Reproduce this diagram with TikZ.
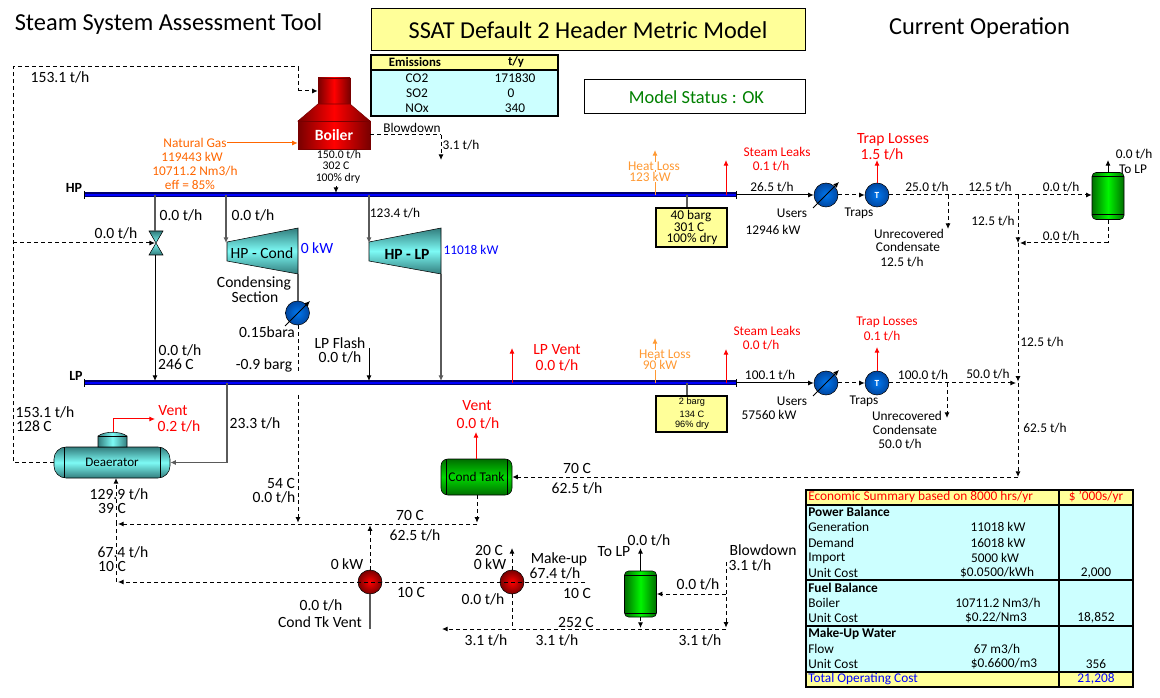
\documentclass[tikz,border=0pt]{standalone}
\usepackage{fontspec}
\setmainfont{Carlito}
\newfontfamily\arialfont{Liberation Sans}
\usetikzlibrary{arrows.meta}
\definecolor{paleyellow}{RGB}{255,255,153}
\definecolor{palecyan}{RGB}{204,255,255}
\definecolor{lossorange}{RGB}{255,102,0}
\definecolor{heatorange}{RGB}{255,153,51}
\definecolor{okgreen}{RGB}{0,128,0}
\definecolor{pipegray}{RGB}{90,90,90}
\definecolor{tealdark}{RGB}{50,125,125}
\definecolor{teallight}{RGB}{125,250,245}
\definecolor{greendark}{RGB}{0,110,0}
\definecolor{greenlight}{RGB}{0,245,0}
\definecolor{reddark}{RGB}{120,0,0}
\definecolor{bluedark}{RGB}{0,70,160}
\definecolor{bluelight}{RGB}{0,120,240}
\definecolor{headernavy}{RGB}{0,0,110}
\tikzset{
  >={Latex[length=4.2pt,width=3.8pt]},
  lbl/.style={inner sep=0pt,font=\fontsize{10}{12}\selectfont},
  lblbig/.style={inner sep=0pt,font=\fontsize{11.7}{14}\selectfont},
  lblsmall/.style={inner sep=0pt,font=\fontsize{8.8}{10}\selectfont},
  lbltitle/.style={inner sep=0pt,font=\fontsize{18.3}{22}\selectfont},
  steamline/.style={line width=0.75pt,draw=black},
  condline/.style={steamline,dash pattern=on 3pt off 2.25pt},
  graypipe/.style={line width=0.9pt,draw=pipegray},
  redline/.style={line width=0.75pt,draw=red},
  heatline/.style={line width=0.75pt,draw=heatorange},
  gasline/.style={line width=0.75pt,draw=lossorange},
  headerouter/.style={line width=3.75pt,draw=headernavy},
  headerinner/.style={line width=1.1pt,draw=blue},
  statebox/.style={draw,line width=1.5pt,fill=paleyellow,inner sep=0pt},
  userball/.style={circle,draw,inner sep=0pt,minimum size=18pt,shading=radial,inner color=bluelight,outer color=bluedark},
  pumpball/.style={circle,draw,inner sep=0pt,minimum size=18pt,shading=radial,inner color=red,outer color=reddark},
  redbox/.style={draw=reddark,inner sep=0pt,left color=reddark,right color=reddark,middle color=red},
  turbine/.style={draw,top color=tealdark,bottom color=tealdark,middle color=teallight}
}
\begin{document}
\begin{tikzpicture}[x=0.75pt,y=-0.75pt]
\useasboundingbox (0,0) rectangle (1160,698);

% Titles
\node[lbltitle] (tooltitle) at (168.5,24.5) {Steam System Assessment Tool};
\node[draw,line width=0.75pt,fill=paleyellow,minimum width=325.5pt,minimum height=31.5pt,inner sep=0pt,font=\fontsize{18.2}{22}\selectfont] (modeltitle) at (588,30) {SSAT Default 2 Header Metric Model};
\node[lbltitle] (optitle) at (979.5,28.5) {Current Operation};
\node[draw,line width=0.75pt,minimum width=165.75pt,minimum height=25.5pt,inner sep=0pt,text=okgreen,font=\fontsize{13.8}{16}\selectfont] (modelstatus) at (694.5,97) {\hspace{3pt}Model Status : OK};

% Emissions
\draw[fill=palecyan,line width=1.5pt] (371,55) rectangle (558,116);
\draw[fill=paleyellow,line width=1.5pt] (371,55) rectangle (558,70);
\node[lbl,font=\fontsize{9.6}{12}\selectfont\bfseries] (emisname) at (415,62.5) {Emissions};
\node[lbl,font=\fontsize{9.6}{12}\selectfont\bfseries] (emisunit) at (516,62.5) {t/y};
\node[lbl] (emisA) at (417,78) {CO2};
\node[lbl] (emisAval) at (515,78) {171830};
\node[lbl] (emisB) at (417,93) {SO2};
\node[lbl] (emisBval) at (511,93) {0};
\node[lbl] (emisC) at (417,108) {NOx};
\node[lbl] (emisCval) at (515,108) {340};

% Boiler
\node[redbox,minimum width=24pt,minimum height=19.5pt] (stack) at (334,91) {};
\path[redbox] (318,104) -- (350,104) -- (370,121) -- (298,121) -- cycle;
\node[redbox,minimum width=54pt,minimum height=21pt,text=white,font=\fontsize{11.7}{14}\selectfont\bfseries] (boiler) at (334,135) {Boiler};

% Headers
\coordinate (hpL) at (84,195);
\coordinate (hpR) at (736,195);
\coordinate (lpL) at (84,383);
\coordinate (lpR) at (736,383);
\draw[headerouter] (hpL) -- (hpR);
\draw[headerinner] (hpL) -- (hpR);
\draw[headerouter] (lpL) -- (lpR);
\draw[headerinner] (lpL) -- (lpR);
\draw[steamline] ([yshift=-3pt]hpL) -- ([yshift=3pt]hpL);
\draw[steamline] ([yshift=-3pt]hpR) -- ([yshift=3pt]hpR);
\draw[steamline] ([yshift=-3pt]lpL) -- ([yshift=3pt]lpL);
\draw[steamline] ([yshift=-3pt]lpR) -- ([yshift=3pt]lpR);
\node[lblbig,font=\fontsize{10.5}{12}\selectfont\bfseries] (hpname) at (74,188) {HP};
\node[lblbig,font=\fontsize{10.5}{12}\selectfont\bfseries] (lpname) at (76,376) {LP};

% Let-down valve
\coordinate (valve) at (155,243);
\coordinate (leftbus) at (13,243);
\coordinate (rectop) at (298,67);
\path[turbine] (149,231) -- (163,231) -- (149,255) -- (163,255) -- cycle;
\draw[graypipe] (valve |- hpL) -- (155,231);
\draw[steamline,->] (155,255) -- ([yshift=1.5pt]valve |- lpL);

% Turbines
\coordinate (condin) at (226,195);
\coordinate (lpin) at (369,195);
\path[turbine] (227,242) -- (298,228) -- (298,274) -- (227,261) -- cycle;
\path[turbine] (369,242) -- (441,228) -- (441,274) -- (369,261) -- cycle;
\draw[graypipe,->] (condin) -- (226,243);
\draw[graypipe,->] (lpin) -- (369,243);
\draw[graypipe,->] (441,274) -- ([yshift=1.5pt]441,383);
\node[lblbig] (condname) at (262,253) {HP - Cond};
\node[lblbig,font=\fontsize{11.7}{14}\selectfont\bfseries] (lpname2) at (407,254) {HP - LP};
\node[lblbig,text=blue] (condpower) at (317,248) {0 kW};
\node[lbl,text=blue] (lppower) at (471,250) {11018 kW};

% Condensing section
\node[userball] (condenser) at (297.5,313) {};
\coordinate (condtop) at (298,274);
\draw[graypipe] (condtop) -- (condtop |- condenser.north);
\draw[steamline,->] (285,326) -- (310,301);
\coordinate (cdgapA) at (298,372);
\coordinate (cdgapB) at (298,395);
\coordinate (mixW) at (116,524);
\coordinate (mixE) at (477,524);
\draw[condline] (cdgapA |- condenser.south) -- (cdgapA);
\draw[condline,->] (cdgapB) -- ([yshift=1pt]cdgapB |- mixW);
\node[lblbig] (condlabA) at (254,283) {Condensing};
\node[lblbig] (condlabB) at (255,297) {Section};
\node[lblbig] (condlabC) at (267,332) {0.15bara};
\node[lblbig] (condlabD) at (264,365) {-0.9 barg};

% Deaerator
\node[draw,inner sep=0pt,rounded corners=9pt,minimum width=87pt,minimum height=23.25pt,top color=tealdark,bottom color=tealdark,middle color=teallight,font=\fontsize{9.8}{12}\selectfont] (dea) at (112,462.5) {Deaerator};
\draw[steamline] (64,447) -- (64,478);
\draw[steamline] (160,447) -- (160,478);
\path[draw,left color=tealdark,right color=tealdark,middle color=teallight] (98,447) -- (98,436) .. controls (105,431) and (120,431) .. (127,436) -- (127,447) -- cycle;
\draw[steamline] (98,436) -- (127,436);
\coordinate (deavent) at (113,419);
\node[lblbig,text=red] (deaventA) at (173,411) {Vent};
\node[lblbig,text=red] (deaventB) at (179,426) {0.2 t/h};
\draw[redline] (113,432) -- (deavent);
\draw[redline,->] (deavent) -- (155,419);
\draw[condline] (dea.west) -- (leftbus |- dea.west) -- (leftbus |- rectop) -- (rectop) -- (rectop |- stack.west);
\draw[condline,->] (rectop |- stack.west) -- (stack.west);
\draw[condline,->] (leftbus) -- (valve);
\coordinate (deain) at (227,383);
\draw[graypipe] (deain) -- (deain |- dea.east);
\draw[graypipe,->] (deain |- dea.east) -- (dea.east);

% Natural gas and blowdown
\coordinate (gasin) at (227,143);
\coordinate (boilout) at (336,186);
\draw[gasline,->] (gasin) -- (boiler.west |- gasin);
\draw[condline] (boiler.east) -- (441,135);
\draw[condline,->] (441,135) -- (441,160);
\draw[steamline,->] (boilout) -- ([yshift=1.5pt]boilout |- hpL);

% HP state and losses
\node[statebox,minimum width=53.25pt,minimum height=29.25pt] (hpstate) at (691.5,227.5) {};
\coordinate (hptap) at (687,195);
\draw[graypipe] (hptap) -- (hptap |- hpstate.north);
\draw[heatline,->] (655,195) -- (655,150);
\draw[redline,->] (726,195) -- (726,160);
\node[lbl] (hpstateA) at (691,216) {40 barg};
\node[lbl] (hpstateB) at (689,227) {301 C};
\node[lbl] (hpstateC) at (692,239) {100\% dry};

% LP state and losses
\node[statebox,minimum width=53.25pt,minimum height=27pt] (lpstate) at (691,414) {};
\coordinate (lptap) at (687,383);
\draw[graypipe] (lptap) -- (lptap |- lpstate.north);
\draw[heatline,->] (655,383) -- (655,338);
\draw[redline,->] (726,383) -- (726,349);
\draw[redline,->] (512,383) -- (512,348);
\node[lbl,font=\arialfont\fontsize{6.9}{9}\selectfont] (lpstateA) at (692,402) {2 barg};
\node[lbl,font=\arialfont\fontsize{6.9}{9}\selectfont] (lpstateB) at (692,414) {134 C};
\node[lbl,font=\arialfont\fontsize{6.9}{9}\selectfont] (lpstateC) at (692,425) {96\% dry};

% HP users
\node[userball] (hpusers) at (826,195) {};
\node[userball,font=\fontsize{7}{8}\selectfont\bfseries,text=white] (hptraps) at (877,195) {T};
\draw[steamline,->] (hpR) -- (hpusers.west);
\draw[steamline,->] (813,208) -- (839,182);
\draw[condline,->] (hpusers.east) -- (hptraps.west);
\draw[redline,->] (hptraps.north) -- (877,160);
\node[draw,inner sep=0pt,rounded corners=3pt,minimum width=24pt,minimum height=35.25pt,left color=greendark,right color=greendark,middle color=greenlight] (hptank) at (1108,196) {};
\draw[steamline] (1092,177) -- (1124,177);
\draw[steamline] (1092,215) -- (1124,215);
\coordinate (hpsplit) at (948,195);
\coordinate (hpbus) at (1018,195);
\coordinate (hpreturn) at (1018,243);
\draw[condline,->] (hptraps.east) -- (hptank.west |- hptraps.east);
\draw[condline,->] (hpsplit) -- (948,229);
\draw[condline,->] (hpbus) -- (hpreturn);
\draw[condline] (hptank.south) -- (hptank.south |- hpreturn);
\draw[condline,->] (hptank.south |- hpreturn) -- ([xshift=1.5pt]hpreturn);
\draw[steamline,->] (hptank.north) -- (1108,160);

% LP users
\node[userball] (lpusers) at (826,383) {};
\node[userball,font=\fontsize{7}{8}\selectfont\bfseries,text=white] (lptraps) at (877,383) {T};
\draw[steamline,->] (lpR) -- (lpusers.west);
\draw[steamline,->] (813,396) -- (839,370);
\draw[condline,->] (lpusers.east) -- (lptraps.west);
\draw[redline,->] (lptraps.north) -- (877,347);
\coordinate (lpsplit) at (947,383);
\coordinate (lpbus) at (1018,383);
\coordinate (tankreturn) at (1018,477);
\draw[condline,->] (lptraps.east) -- ([xshift=-1.5pt]lpbus);
\draw[condline,->] (lpsplit) -- (947,418);
\draw[condline,->] (hpreturn) -- ([yshift=1pt]lpbus);
\draw[condline,->] (lpbus) -- (tankreturn);

% Condensate tank
\node[draw,inner sep=0pt,rounded corners=5pt,minimum width=53.25pt,minimum height=27pt,top color=greendark,bottom color=greendark,middle color=green!85!black,font=\fontsize{10}{12}\selectfont] (condtank) at (476.5,477) {Cond Tank};
\draw[steamline] (446,459) -- (446,495);
\draw[steamline] (507,459) -- (507,495);
\draw[condline,->] (tankreturn) -- (condtank.east);
\draw[redline,->] (476,459) -- (476,432);
\draw[condline,->] (mixE |- condtank.south) -- ([yshift=1pt]mixE);
\draw[condline,->] (mixE) -- ([xshift=1.5pt]mixW);

% Feedwater pumps
\node[pumpball] (condpump) at (370,582) {};
\node[pumpball] (mupump) at (512,582) {};
\coordinate (mufeed) at (585,582);
\coordinate (feedW) at (116,582);
\coordinate (bdE) at (726,629);
\coordinate (bdW) at (442,629);
\draw[condline,->] (mufeed) -- ([xshift=1.5pt]feedW);
\draw[condline,->] (condpump.north) -- ([yshift=-1pt]condpump |- mixW);
\draw[graypipe] (condpump.south) -- (370,629);
\draw[condline,->] (mupump.north) -- (512,548);
\draw[condline] (mupump.south) -- (mupump |- bdW);
\draw[condline] (feedW) -- (mixW);
\draw[condline,->] (mixW) -- (116,478);

% Blowdown tank
\node[draw,inner sep=0pt,rounded corners=3pt,minimum width=24pt,minimum height=34.5pt,left color=greendark,right color=greendark,middle color=greenlight] (bdtank) at (640.5,594) {};
\draw[steamline] (625,575) -- (656,575);
\draw[steamline] (625,613) -- (656,613);
\draw[steamline,->] (bdtank.north) -- (640.5,548);
\coordinate (bdtop) at (726,562);
\draw[condline,->] (bdtop) -- ([yshift=1pt]bdE);
\draw[condline,->] (726,594) -- (bdtank.east);
\draw[condline,->] (bdtank.south) -- (640.5,628);
\draw[condline,->] (bdE) -- (bdW);

% Labels upper left
\node[lblbig] (rectopval) at (60,77) {153.1 t/h};
\node[lbl,text=lossorange] (gasA) at (195,143) {Natural Gas};
\node[lbl,text=lossorange] (gasB) at (192,157) {119443 kW};
\node[lbl,text=lossorange] (gasC) at (195,171) {10711.2 Nm3/h};
\node[lbl,text=lossorange] (gasD) at (190,185) {eff = 85\%};
\node[lblsmall] (boilA) at (339,155) {150.0 t/h};
\node[lblsmall] (boilB) at (336,166) {302 C};
\node[lblsmall] (boilC) at (338,178) {100\% dry};
\node[lbl] (blowA) at (412,128) {Blowdown};
\node[lbl] (blowB) at (461,145) {3.1 t/h};
\node[lblbig] (valA) at (181,215) {0.0 t/h};
\node[lblbig] (valB) at (253,215) {0.0 t/h};
\node[lbl] (valC) at (395,213) {123.4 t/h};
\node[lblbig] (valD) at (116,233) {0.0 t/h};
\node[lblbig] (valE) at (180,350) {0.0 t/h};
\node[lblbig] (valF) at (176,364) {246 C};
\node[lblbig] (flashA) at (340,343) {LP Flash};
\node[lblbig] (flashB) at (340,357) {0.0 t/h};
\coordinate (flashin) at (369,348);
\draw[steamline,->] (flashin) -- ([yshift=1.5pt]flashin |- lpL);
\node[lblbig] (recA) at (45,412) {153.1 t/h};
\node[lblbig] (recB) at (34,426) {128 C};
\node[lblbig] (deaval) at (255,423) {23.3 t/h};
\node[lblbig] (cdA) at (281,483) {54 C};
\node[lblbig] (cdB) at (274,497) {0.0 t/h};
\node[lblbig] (feedA) at (119,494) {129.9 t/h};
\node[lblbig] (feedB) at (112,508) {39 C};
\node[lblbig] (feedC) at (123,552) {67.4 t/h};
\node[lblbig] (feedD) at (112,566) {10 C};

% Labels header losses
\node[lbl,text=heatorange,fill=white] (hpheatA) at (654,166) {Heat Loss};
\node[lbl,text=heatorange,fill=white] (hpheatB) at (650,177) {123 kW};
\node[lbl,text=red] (hpleakA) at (777,152) {Steam Leaks};
\node[lbl,text=red] (hpleakB) at (771,166) {0.1 t/h};
\node[lbl,text=heatorange,fill=white] (lpheatA) at (665,354) {Heat Loss};
\node[lbl,text=heatorange,fill=white] (lpheatB) at (660,365) {90 kW};
\node[lbl,text=red] (lpleakA) at (767,331) {Steam Leaks};
\node[lbl,text=red] (lpleakB) at (761,345) {0.0 t/h};
\node[lblbig,text=red] (ventA) at (557,350) {LP Vent};
\node[lblbig,text=red] (ventB) at (557,365) {0.0 t/h};
\node[lblbig,text=red] (tankventA) at (477,406) {Vent};
\node[lblbig,text=red] (tankventB) at (478,423) {0.0 t/h};

% Labels HP users
\node[lbl] (hpflowA) at (772,187) {26.5 t/h};
\node[lbl] (hpflowB) at (792,213) {Users};
\node[lbl] (hpflowC) at (773,230) {12946 kW};
\node[lbl] (hpflowD) at (859,213) {Traps};
\node[lblbig,text=red] (hplossA) at (893,140) {Trap Losses};
\node[lblbig,text=red] (hplossB) at (882,154) {1.5 t/h};
\node[lbl] (hpflowE) at (927,187) {25.0 t/h};
\node[lbl] (hpflowF) at (990,187) {12.5 t/h};
\node[lbl] (hpflowG) at (1061,187) {0.0 t/h};
\node[lbl] (hpcondA) at (909,234) {Unrecovered};
\node[lbl] (hpcondB) at (908,247) {Condensate};
\node[lbl] (hpcondC) at (902,262) {12.5 t/h};
\node[lbl] (hpflowH) at (993,221) {12.5 t/h};
\node[lbl] (hpflowI) at (1061,236) {0.0 t/h};
\node[lbl] (hptankA) at (1134,154) {0.0 t/h};
\node[lbl] (hptankB) at (1133,169) {To LP};

% Labels LP users
\node[lbl] (lpflowA) at (770,375) {100.1 t/h};
\node[lbl] (lpflowB) at (792,401) {Users};
\node[lbl] (lpflowC) at (769,415) {57560 kW};
\node[lbl] (lpflowD) at (864,401) {Traps};
\node[lbl,text=red] (lplossA) at (887,322) {Trap Losses};
\node[lbl,text=red] (lplossB) at (882,336) {0.1 t/h};
\node[lbl] (lpflowE) at (923,375) {100.0 t/h};
\node[lbl] (lpflowF) at (988,374) {50.0 t/h};
\node[lbl] (lpcondA) at (907,416) {Unrecovered};
\node[lbl] (lpcondB) at (905,430) {Condensate};
\node[lbl] (lpcondC) at (900,444) {50.0 t/h};
\node[lbl] (busA) at (1042,342) {12.5 t/h};
\node[lbl] (busB) at (1045,428) {62.5 t/h};

% Labels condensate and make-up
\node[lblbig] (tankflowA) at (577,468) {70 C};
\node[lblbig] (tankflowB) at (577,488) {62.5 t/h};
\node[lblbig] (mixA) at (410,515) {70 C};
\node[lblbig] (mixB) at (415,535) {62.5 t/h};
\node[lblbig] (pumpA) at (347,564) {0 kW};
\node[lblbig] (pumpB) at (321,605) {0.0 t/h};
\node[lblbig] (pumpC) at (320,622) {Cond Tk Vent};
\node[lblbig] (pumpD) at (411,592) {10 C};
\node[lblbig] (muA) at (489,550) {20 C};
\node[lblbig] (muB) at (490,564) {0 kW};
\node[lblbig] (muC) at (559,559) {Make-up};
\node[lblbig] (muD) at (555,573) {67.4 t/h};
\node[lblbig] (muE) at (577,593) {10 C};
\node[lblbig] (muF) at (483,599) {0.0 t/h};
\node[lblbig] (bdA) at (649,540) {0.0 t/h};
\node[lblbig] (bdB) at (614,552) {To LP};
\node[lblbig] (bdC) at (698,584) {0.0 t/h};
\node[lblbig] (bdD) at (763,550) {Blowdown};
\node[lblbig] (bdE2) at (750,565) {3.1 t/h};
\node[lblbig] (bdF) at (576,622) {252 C};
\node[lblbig] (bdG) at (486,640) {3.1 t/h};
\node[lblbig] (bdH) at (557,640) {3.1 t/h};
\node[lblbig] (bdI) at (700,640) {3.1 t/h};

% Economic summary
\draw[fill=palecyan,line width=1.5pt] (806,490) rectangle (1133,687);
\draw[fill=paleyellow,line width=1.5pt] (806,490) rectangle (1133,504.5);
\draw[fill=paleyellow,line width=1.5pt] (806,672) rectangle (1133,687);
\draw[line width=1.5pt] (806,580) -- (1133,580);
\draw[line width=1.5pt] (806,625.5) -- (1133,625.5);
\draw[line width=1.5pt] (1059,490) -- (1059,687);
\node[lbl,text=red,anchor=west] (econhead) at (808,497) {Economic Summary based on 8000 hrs/yr};
\node[lbl,text=red] (econunit) at (1096,497) {\$ '000s/yr};
\node[lbl,anchor=west,font=\fontsize{10}{12}\selectfont\bfseries] (powhead) at (808,512) {Power Balance};
\node[lbl,anchor=west] (powA) at (808,527) {Generation};
\node[lbl] (powAval) at (998,527) {11018 kW};
\node[lbl,anchor=west] (powB) at (808,543) {Demand};
\node[lbl] (powBval) at (998,543) {16018 kW};
\node[lbl,anchor=west] (powC) at (808,558) {Import};
\node[lbl] (powCval) at (995,558) {5000 kW};
\node[lbl,anchor=west] (powD) at (808,573) {Unit Cost};
\node[lbl] (powDval) at (997,573) {\$0.0500/kWh};
\node[lbl] (powDcost) at (1096,573) {2,000};
\node[lbl,anchor=west,font=\fontsize{10}{12}\selectfont\bfseries] (fuelhead) at (808,588) {Fuel Balance};
\node[lbl,anchor=west] (fuelA) at (808,603) {Boiler};
\node[lbl] (fuelAval) at (998,603) {10711.2 Nm3/h};
\node[lbl,anchor=west] (fuelB) at (808,618) {Unit Cost};
\node[lbl] (fuelBval) at (996,618) {\$0.22/Nm3};
\node[lbl] (fuelBcost) at (1096,618) {18,852};
\node[lbl,anchor=west,font=\fontsize{10}{12}\selectfont\bfseries] (waterhead) at (808,634) {Make-Up Water};
\node[lbl,anchor=west] (waterA) at (808,649) {Flow};
\node[lbl] (waterAval) at (997,649) {67 m3/h};
\node[lbl,anchor=west] (waterB) at (808,664) {Unit Cost};
\node[lbl] (waterBval) at (1004,664) {\$0.6600/m3};
\node[lbl] (waterBcost) at (1096,664) {356};
\node[lbl,text=blue,anchor=west] (totalname) at (808,679) {Total Operating Cost};
\node[lbl,text=blue] (totalcost) at (1096,679) {21,208};

\end{tikzpicture}
\end{document}
